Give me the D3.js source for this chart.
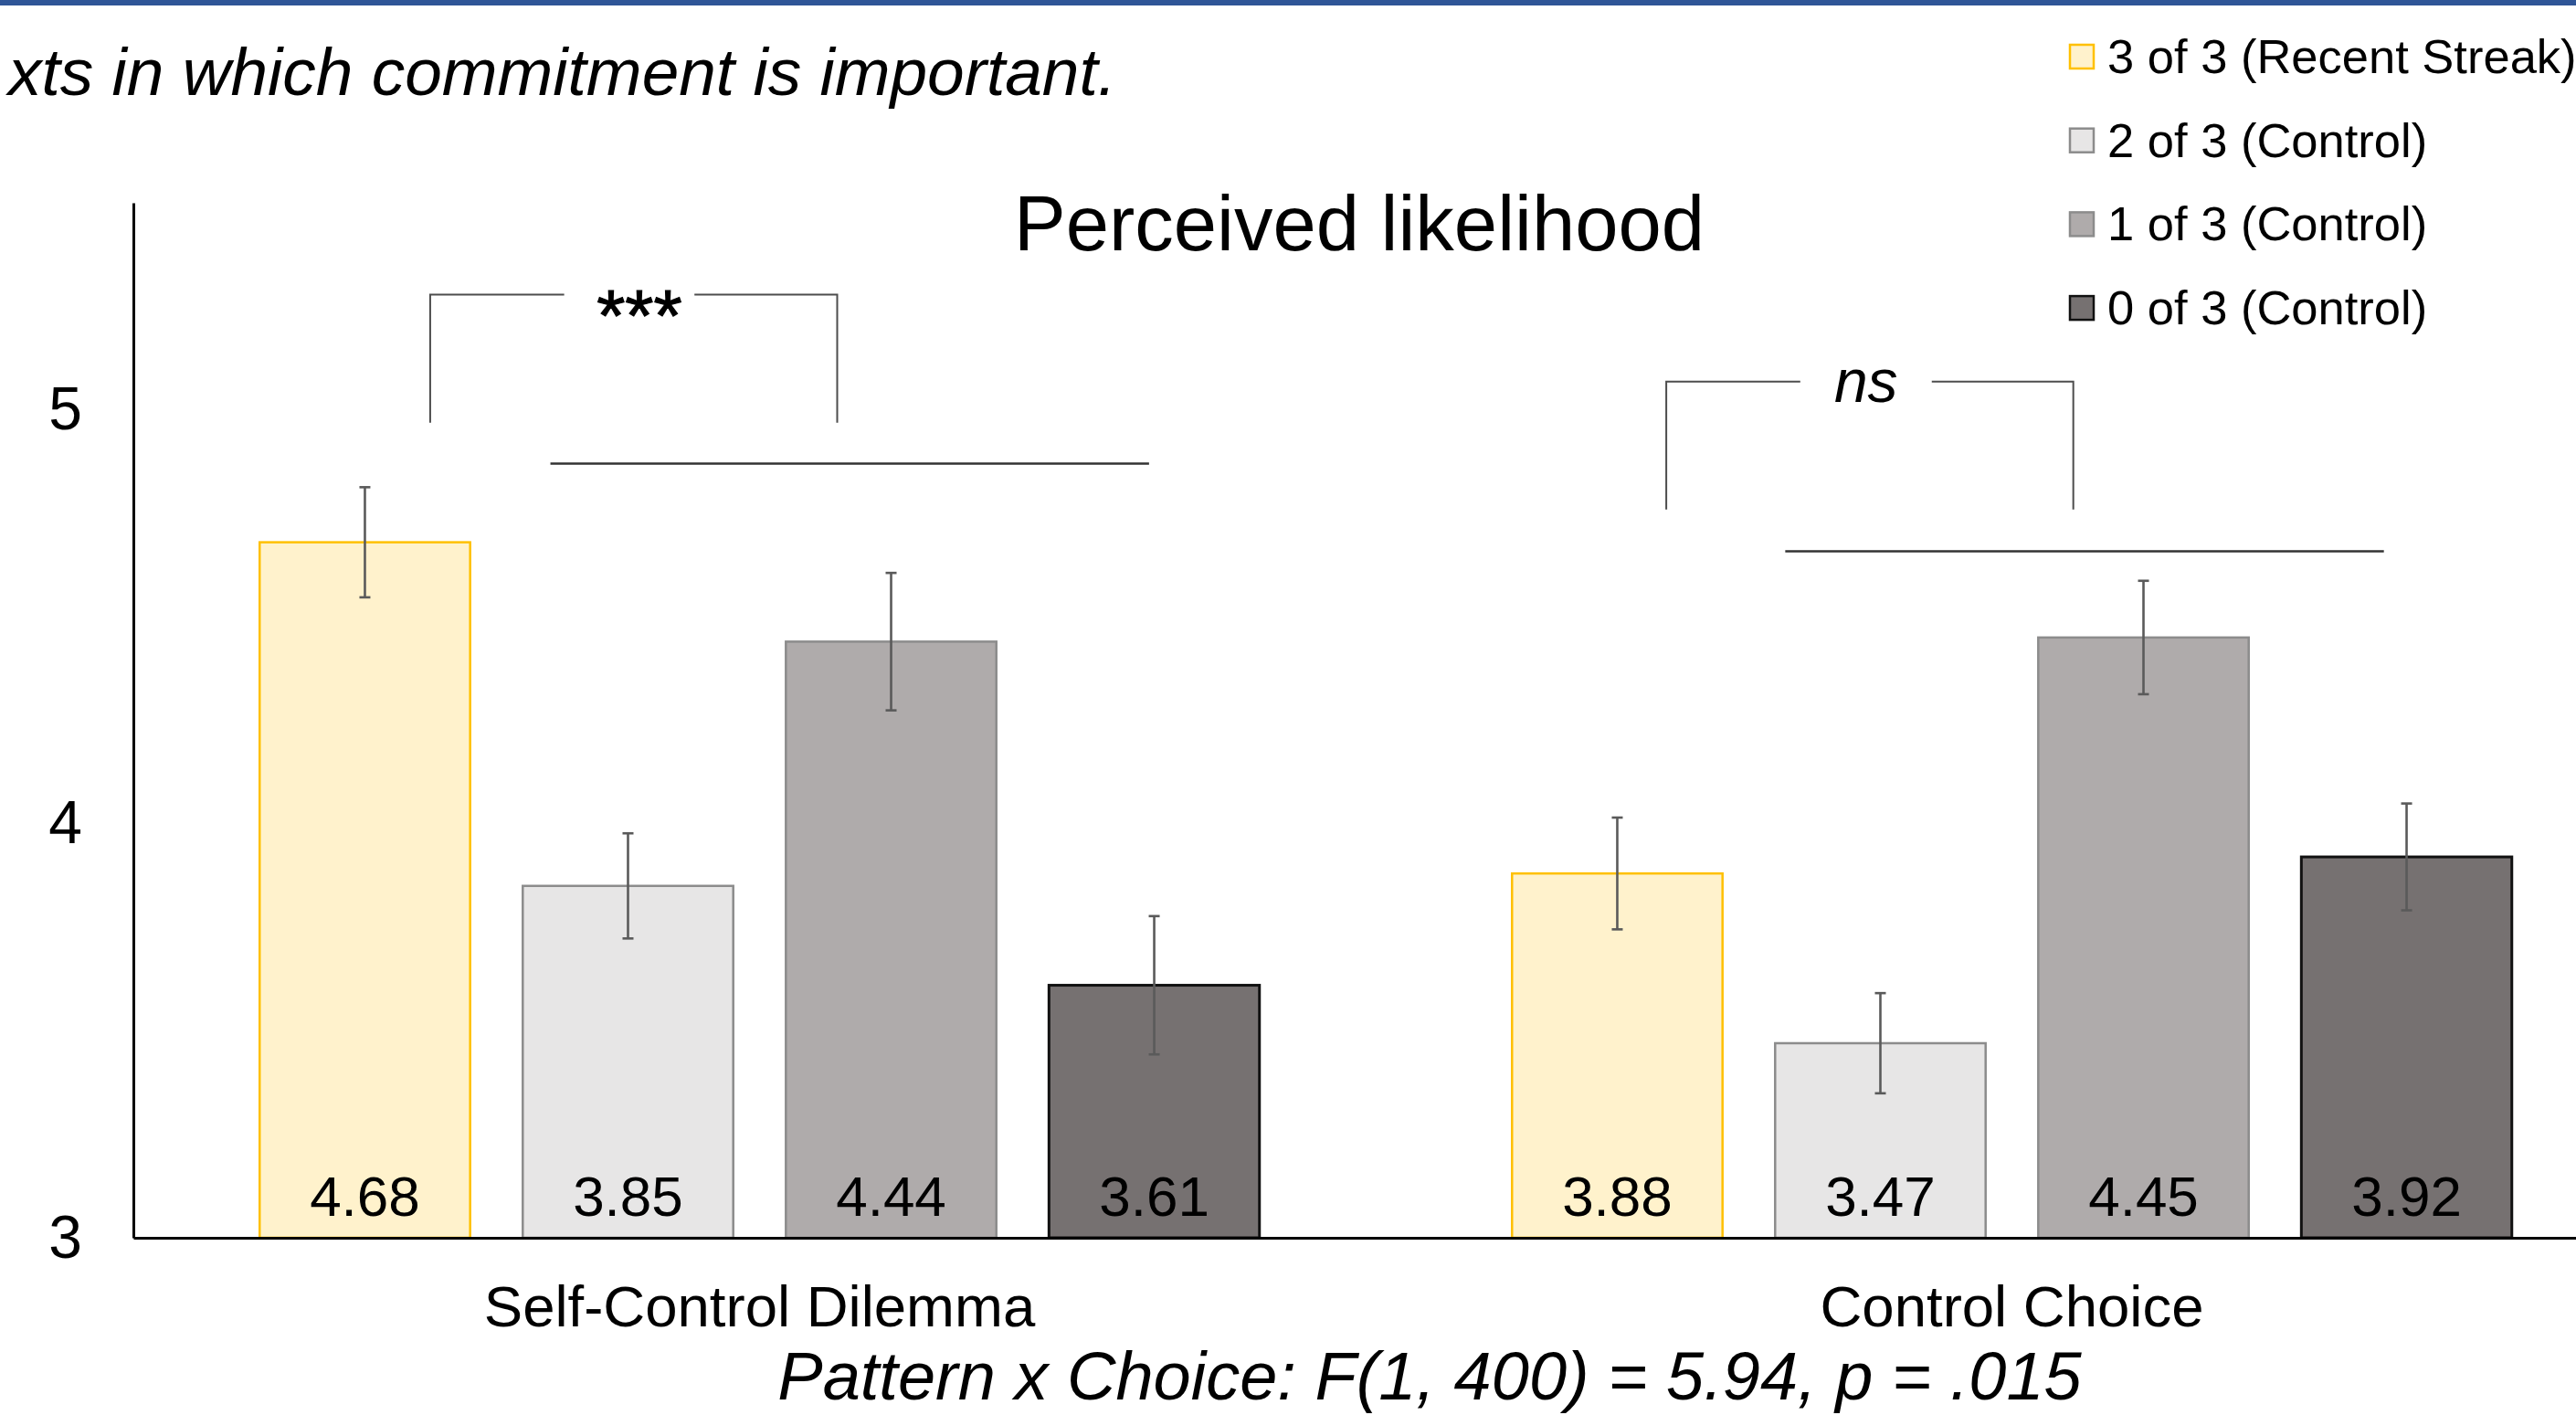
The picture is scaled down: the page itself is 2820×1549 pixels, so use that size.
<!DOCTYPE html>
<html>
<head>
<meta charset="utf-8">
<script src="https://cdn.jsdelivr.net/npm/d3@7"></script>
<style>
  html, body { margin: 0; padding: 0; background: #fff; overflow: hidden; }
  svg { display: block; font-family: "Liberation Sans", Arial, sans-serif; }
</style>
</head>
<body>
<svg id="chart" width="2820" height="1549"></svg>
<script>
// Conditions (x groups) and streak patterns (series)
const groups = ["Self-Control Dilemma", "Control Choice"];
const patterns = ["3 of 3 (Recent Streak)", "2 of 3 (Control)", "1 of 3 (Control)", "0 of 3 (Control)"];

// Mean perceived likelihood per pattern, and standard errors
const selfControlMeans = [4.68, 3.85, 4.44, 3.61];
const controlChoiceMeans = [3.88, 3.47, 4.45, 3.92];
const selfControlErrors = [0.133, 0.127, 0.166, 0.167];
const controlChoiceErrors = [0.135, 0.121, 0.137, 0.129];

const yTicks = [3, 4, 5];
const yDomain = [3, 5.5];

// Significance annotations per group
const sigLabels = ["***", "ns"];
const sigItalic = [false, true];

const titleText = "Perceived likelihood";
const subtitleText = "xts in which commitment is important.";
const statText = "Pattern x Choice: F(1, 400) = 5.94, p = .015";

const meansByGroup = [selfControlMeans, controlChoiceMeans];
const errorsByGroup = [selfControlErrors, controlChoiceErrors];

const fills = ["#FFF2CC", "#E7E6E6", "#AFABAB", "#767171"];
const strokes = ["#FFC000", "#8C8C8C", "#8C8C8C", "#111111"];
const strokeWidths = [2.5, 2.5, 2.5, 3];

const svg = d3.select("#chart");

// Top rule
svg.append("rect").attr("x", 0).attr("y", 0).attr("width", 2820).attr("height", 6).attr("fill", "#2F5597");

const x0 = d3.scaleBand().domain(groups).range([146, 2888]).padding(0);
const x1 = d3.scaleBand().domain(patterns).range([0, x0.bandwidth()]).paddingInner(0.2).paddingOuter(0.48);
const y = d3.scaleLinear().domain(yDomain).range([1355, 222]);

// Bars
const rows = [];
groups.forEach((g, gi) => patterns.forEach((p, pi) => rows.push({
  group: g, gi, pattern: p, pi, value: meansByGroup[gi][pi], err: errorsByGroup[gi][pi]
})));

const barG = svg.append("g");
barG.selectAll("rect").data(rows).join("rect")
  .attr("x", d => x0(d.group) + x1(d.pattern))
  .attr("y", d => y(d.value))
  .attr("width", x1.bandwidth())
  .attr("height", d => y(yDomain[0]) - y(d.value))
  .attr("fill", d => fills[d.pi])
  .attr("stroke", d => strokes[d.pi])
  .attr("stroke-width", d => strokeWidths[d.pi]);

// Error bars
const errG = svg.append("g").attr("stroke", "#5A5A5A").attr("stroke-width", 2.6);
rows.forEach(d => {
  const cx = x0(d.group) + x1(d.pattern) + x1.bandwidth() / 2;
  const top = y(d.value + d.err), bot = y(d.value - d.err);
  errG.append("line").attr("x1", cx).attr("x2", cx).attr("y1", top).attr("y2", bot);
  errG.append("line").attr("x1", cx - 6).attr("x2", cx + 6).attr("y1", top).attr("y2", top);
  errG.append("line").attr("x1", cx - 6).attr("x2", cx + 6).attr("y1", bot).attr("y2", bot);
});

// Value labels inside bars
svg.append("g").selectAll("text").data(rows).join("text")
  .attr("x", d => x0(d.group) + x1(d.pattern) + x1.bandwidth() / 2)
  .attr("y", y(yDomain[0]) - 24)
  .attr("text-anchor", "middle")
  .attr("font-size", 62)
  .attr("fill", "#000")
  .text(d => d.value.toFixed(2));

// Axes
const yAxis = svg.append("g").attr("transform", `translate(${x0.range()[0]},0)`)
  .call(d3.axisLeft(y).tickValues(yTicks).tickSize(0).tickPadding(56).tickFormat(d3.format("d")));
yAxis.select(".domain").attr("stroke", "#000").attr("stroke-width", 3);
yAxis.selectAll("text").attr("font-size", 66).attr("fill", "#000")
  .attr("font-family", "'Liberation Sans', Arial, sans-serif");

const xAxis = svg.append("g").attr("transform", `translate(0,${y(yDomain[0])})`)
  .call(d3.axisBottom(x0).tickSize(0).tickPadding(52));
xAxis.select(".domain").attr("stroke", "#000").attr("stroke-width", 3);
xAxis.selectAll("text").attr("font-size", 63.5).attr("fill", "#000")
  .attr("font-family", "'Liberation Sans', Arial, sans-serif");

// Significance brackets: positions as fractions of the group band, heights in axis units
const bracketSpec = [
  { left: 0.237, right: 0.562, top: 5.278, bottom: 4.969, gapL: 0.344, gapR: 0.448, lineL: 0.333, lineR: 0.811, lineY: 4.870 },
  { left: 0.224, right: 0.549, top: 5.068, bottom: 4.759, gapL: 0.331, gapR: 0.436, lineL: 0.319, lineR: 0.797, lineY: 4.658 }
];
const annG = svg.append("g");
groups.forEach((g, gi) => {
  const s = bracketSpec[gi];
  const gx = v => x0(g) + v * x0.bandwidth();
  const path = `M${gx(s.left)},${y(s.bottom)}V${y(s.top)}H${gx(s.gapL)}M${gx(s.gapR)},${y(s.top)}H${gx(s.right)}V${y(s.bottom)}`;
  annG.append("path").attr("d", path).attr("fill", "none").attr("stroke", "#4D4D4D").attr("stroke-width", 2);
  annG.append("line")
    .attr("x1", gx(s.lineL)).attr("x2", gx(s.lineR))
    .attr("y1", y(s.lineY)).attr("y2", y(s.lineY))
    .attr("stroke", "#333").attr("stroke-width", 2.5);
  const lbl = annG.append("text")
    .attr("text-anchor", "middle")
    .attr("fill", "#000")
    .text(sigLabels[gi]);
  if (sigItalic[gi]) {
    lbl.attr("x", (gx(s.gapL) + gx(s.gapR)) / 2)
      .attr("y", y(s.top) + 22).attr("font-size", 66).attr("font-style", "italic");
  } else {
    lbl.attr("x", (gx(s.gapL) + gx(s.gapR)) / 2 + 11)
      .attr("y", y(s.top) + 50).attr("font-size", 80)
      .attr("stroke", "#000").attr("stroke-width", 1.2);
  }
});

// Title
svg.append("text").attr("x", 1488).attr("y", 274).attr("text-anchor", "middle")
  .attr("font-size", 85).attr("fill", "#000").text(titleText);

// Subtitle line (continues from the left)
svg.append("text").attr("x", 1222).attr("y", 104).attr("text-anchor", "end")
  .attr("font-size", 73).attr("font-style", "italic").attr("fill", "#000").text(subtitleText);

// Interaction statistic
svg.append("text").attr("x", 1565).attr("y", 1532).attr("text-anchor", "middle")
  .attr("font-size", 74).attr("font-style", "italic").attr("fill", "#000").text(statText);

// Legend
const legend = svg.append("g").attr("transform", "translate(2265,48)");
patterns.forEach((p, i) => {
  const row = legend.append("g").attr("transform", `translate(0,${i * 91.7})`);
  row.append("rect").attr("x", 1).attr("y", 1).attr("width", 26).attr("height", 26)
    .attr("fill", fills[i]).attr("stroke", strokes[i]).attr("stroke-width", 2.5);
  row.append("text").attr("x", 42).attr("y", 32).attr("font-size", 52.5).attr("fill", "#000").text(p);
});
</script>
</body>
</html>
